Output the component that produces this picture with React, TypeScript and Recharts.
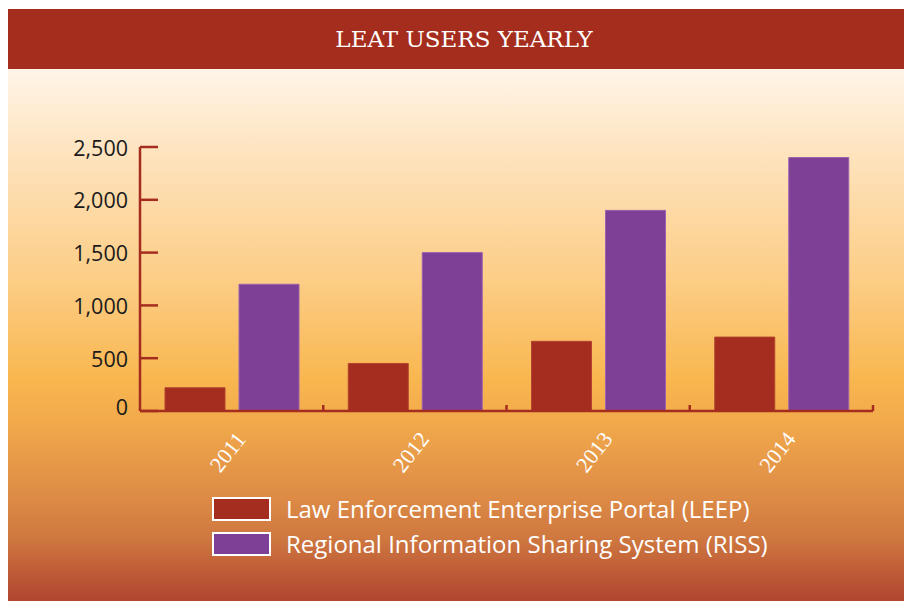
import { BarChart, Bar, XAxis, YAxis } from 'recharts';

const years = ['2011', '2012', '2013', '2014'];
const leep = [220, 450, 660, 700];
const riss = [1200, 1500, 1900, 2400];
const yTicks = [0, 500, 1000, 1500, 2000, 2500];

const series = [
  { key: 'leep', name: 'Law Enforcement Enterprise Portal (LEEP)', color: '#A52D1F', stroke: '#B4432F' },
  { key: 'riss', name: 'Regional Information Sharing System (RISS)', color: '#7E3F96', stroke: '#9A62B0' },
];

const data = years.map((year, i) => ({ year, leep: leep[i], riss: riss[i] }));

const AXIS = '#A52D1F';
const W = 904;
const H = 532;
const M = { top: 78, right: 39, left: 0, bottom: 0 };
const Y_W = 132;
const band = (W - M.left - M.right - Y_W) / years.length;

const YTick = (props: any) => {
  const { x, y, payload, index } = props;
  return (
    <g>
      <line x1={x + 12} x2={x + 30} y1={y} y2={y} stroke={AXIS} strokeWidth={2.5} />
      <text
        x={x}
        y={index === 0 ? y - 5 : y}
        textAnchor="end"
        dominantBaseline="central"
        fill="#1A1A1A"
        fontFamily="'Open Sans', sans-serif"
        fontSize={21.5}
      >
        {payload.value.toLocaleString('en-US')}
      </text>
    </g>
  );
};

const XTick = (props: any) => {
  const { x, y, payload, index } = props;
  const left = x - band / 2;
  const right = x + band / 2;
  return (
    <g>
      {index > 0 && <line x1={left} x2={left} y1={y - 6} y2={y} stroke={AXIS} strokeWidth={2.5} />}
      {index === years.length - 1 && (
        <line x1={right} x2={right} y1={y - 6} y2={y} stroke={AXIS} strokeWidth={2.5} />
      )}
      <text
        x={x - 4}
        y={y + 41}
        textAnchor="middle"
        dominantBaseline="central"
        fill="#fff"
        fontFamily="'Liberation Serif', serif"
        fontSize={22}
        transform={`rotate(-52 ${x - 4} ${y + 41})`}
      >
        {payload.value}
      </text>
    </g>
  );
};

export default function App() {
  return (
    <div style={{ width: W, marginTop: 1 }}>
      <div
        style={{
          height: 60,
          background: '#A52D1E',
          color: '#fff',
          fontFamily: "'DejaVu Serif', serif",
          fontSize: 23,
          lineHeight: '60px',
          textAlign: 'center',
          paddingLeft: 8,
          boxSizing: 'border-box',
        }}
      >
        LEAT USERS YEARLY
      </div>
      <div
        style={{
          position: 'relative',
          width: W,
          height: H,
          background:
            'linear-gradient(to bottom, #FFF5E8 0%, #FEE4C0 15%, #FCCD85 40%, #F9B750 58%, #F2AA4B 66%, #DE8C46 80%, #CF7840 88%, #B1452F 100%)',
        }}
      >
        <BarChart width={W} height={H} data={data} margin={M} barSize={60} barGap={14}>
          <YAxis
            width={Y_W}
            domain={[0, 2500]}
            ticks={yTicks}
            interval={0}
            tickSize={0}
            tickMargin={12}
            tickLine={false}
            axisLine={{ stroke: AXIS, strokeWidth: 2.5 }}
            tick={<YTick />}
          />
          <XAxis
            dataKey="year"
            height={190}
            interval={0}
            tickSize={0}
            tickMargin={0}
            tickLine={false}
            axisLine={{ stroke: AXIS, strokeWidth: 2.5 }}
            tick={<XTick />}
          />
          {series.map((s) => (
            <Bar
              key={s.key}
              dataKey={s.key}
              name={s.name}
              fill={s.color}
              stroke={s.stroke}
              strokeWidth={1}
              isAnimationActive={false}
            />
          ))}
        </BarChart>
        <div style={{ position: 'absolute', left: 204, top: 422 }}>
          {series.map((s) => (
            <div key={s.key} style={{ display: 'flex', alignItems: 'center', height: 35 }}>
              <div
                style={{
                  width: 55,
                  height: 20,
                  background: s.color,
                  border: '2.5px solid #fff',
                  marginRight: 15,
                }}
              />
              <span
                style={{
                  color: '#fff',
                  fontFamily: "'Open Sans', sans-serif",
                  fontSize: 24,
                  lineHeight: '35px',
                  whiteSpace: 'nowrap',
                }}
              >
                {s.name}
              </span>
            </div>
          ))}
        </div>
      </div>
    </div>
  );
}
